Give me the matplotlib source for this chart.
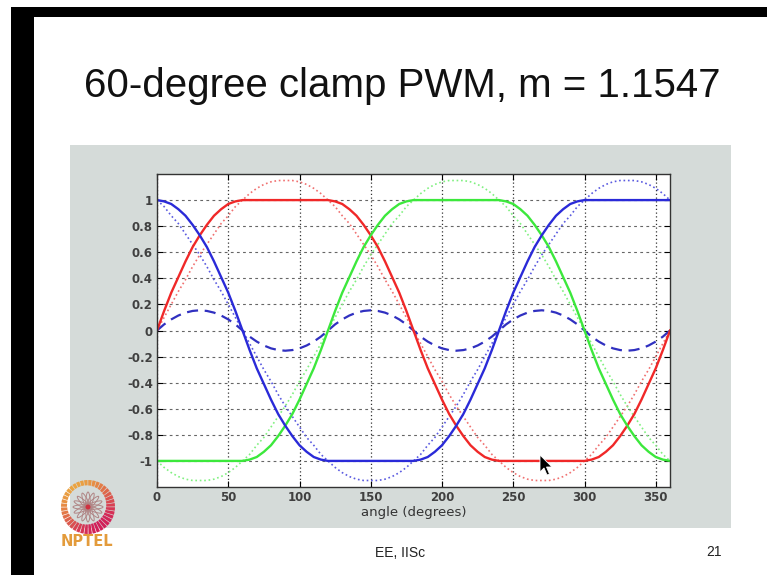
import numpy as np
import matplotlib
matplotlib.use("Agg")
import matplotlib.pyplot as plt
from matplotlib.patches import Rectangle, Wedge, Ellipse, Circle, Polygon

# angle samples (degrees), every 5 degrees
angle = list(range(0, 361, 5))

# reference sines, m = 1.1547 (dotted)
red_sine = [
    0, 0.10, 0.20, 0.30, 0.39, 0.49, 0.58, 0.66, 0.74, 0.82, 0.88, 0.95,
    1.00, 1.05, 1.09, 1.12, 1.14, 1.15, 1.15, 1.15, 1.14, 1.12, 1.09, 1.05,
    1.00, 0.95, 0.88, 0.82, 0.74, 0.66, 0.58, 0.49, 0.39, 0.30, 0.20, 0.10,
    0, -0.10, -0.20, -0.30, -0.39, -0.49, -0.58, -0.66, -0.74, -0.82, -0.88, -0.95,
    -1.00, -1.05, -1.09, -1.12, -1.14, -1.15, -1.15, -1.15, -1.14, -1.12, -1.09, -1.05,
    -1.00, -0.95, -0.88, -0.82, -0.74, -0.66, -0.58, -0.49, -0.39, -0.30, -0.20, -0.10,
    0]
green_sine = [
    -1.00, -1.05, -1.09, -1.12, -1.14, -1.15, -1.15, -1.15, -1.14, -1.12, -1.09, -1.05,
    -1.00, -0.95, -0.88, -0.82, -0.74, -0.66, -0.58, -0.49, -0.39, -0.30, -0.20, -0.10,
    0, 0.10, 0.20, 0.30, 0.39, 0.49, 0.58, 0.66, 0.74, 0.82, 0.88, 0.95,
    1.00, 1.05, 1.09, 1.12, 1.14, 1.15, 1.15, 1.15, 1.14, 1.12, 1.09, 1.05,
    1.00, 0.95, 0.88, 0.82, 0.74, 0.66, 0.58, 0.49, 0.39, 0.30, 0.20, 0.10,
    0, -0.10, -0.20, -0.30, -0.39, -0.49, -0.58, -0.66, -0.74, -0.82, -0.88, -0.95,
    -1.00]
blue_sine = [
    1.00, 0.95, 0.88, 0.82, 0.74, 0.66, 0.58, 0.49, 0.39, 0.30, 0.20, 0.10,
    0, -0.10, -0.20, -0.30, -0.39, -0.49, -0.58, -0.66, -0.74, -0.82, -0.88, -0.95,
    -1.00, -1.05, -1.09, -1.12, -1.14, -1.15, -1.15, -1.15, -1.14, -1.12, -1.09, -1.05,
    -1.00, -0.95, -0.88, -0.82, -0.74, -0.66, -0.58, -0.49, -0.39, -0.30, -0.20, -0.10,
    0, 0.10, 0.20, 0.30, 0.39, 0.49, 0.58, 0.66, 0.74, 0.82, 0.88, 0.95,
    1.00, 1.05, 1.09, 1.12, 1.14, 1.15, 1.15, 1.15, 1.14, 1.12, 1.09, 1.05,
    1.00]

# clamped modulating signals (solid)
red_clamp = [
    0, 0.15, 0.29, 0.41, 0.53, 0.64, 0.73, 0.81, 0.88, 0.93, 0.97, 0.99,
    1, 1, 1, 1, 1, 1, 1, 1, 1, 1, 1, 1,
    1, 0.99, 0.97, 0.93, 0.88, 0.81, 0.73, 0.64, 0.53, 0.41, 0.29, 0.15,
    0, -0.15, -0.29, -0.41, -0.53, -0.64, -0.73, -0.81, -0.88, -0.93, -0.97, -0.99,
    -1, -1, -1, -1, -1, -1, -1, -1, -1, -1, -1, -1,
    -1, -0.99, -0.97, -0.93, -0.88, -0.81, -0.73, -0.64, -0.53, -0.41, -0.29, -0.15,
    0]
green_clamp = [
    -1, -1, -1, -1, -1, -1, -1, -1, -1, -1, -1, -1,
    -1, -0.99, -0.97, -0.93, -0.88, -0.81, -0.73, -0.64, -0.53, -0.41, -0.29, -0.15,
    0, 0.15, 0.29, 0.41, 0.53, 0.64, 0.73, 0.81, 0.88, 0.93, 0.97, 0.99,
    1, 1, 1, 1, 1, 1, 1, 1, 1, 1, 1, 1,
    1, 0.99, 0.97, 0.93, 0.88, 0.81, 0.73, 0.64, 0.53, 0.41, 0.29, 0.15,
    0, -0.15, -0.29, -0.41, -0.53, -0.64, -0.73, -0.81, -0.88, -0.93, -0.97, -0.99,
    -1]
blue_clamp = [
    1, 0.99, 0.97, 0.93, 0.88, 0.81, 0.73, 0.64, 0.53, 0.41, 0.29, 0.15,
    0, -0.15, -0.29, -0.41, -0.53, -0.64, -0.73, -0.81, -0.88, -0.93, -0.97, -0.99,
    -1, -1, -1, -1, -1, -1, -1, -1, -1, -1, -1, -1,
    -1, -0.99, -0.97, -0.93, -0.88, -0.81, -0.73, -0.64, -0.53, -0.41, -0.29, -0.15,
    0, 0.15, 0.29, 0.41, 0.53, 0.64, 0.73, 0.81, 0.88, 0.93, 0.97, 0.99,
    1, 1, 1, 1, 1, 1, 1, 1, 1, 1, 1, 1,
    1]

# common-mode offset (dashed)
offset = [
    0, 0.047, 0.085, 0.115, 0.137, 0.150, 0.155, 0.150, 0.137, 0.115, 0.085, 0.047,
    0, -0.047, -0.085, -0.115, -0.137, -0.150, -0.155, -0.150, -0.137, -0.115, -0.085, -0.047,
    0, 0.047, 0.085, 0.115, 0.137, 0.150, 0.155, 0.150, 0.137, 0.115, 0.085, 0.047,
    0, -0.047, -0.085, -0.115, -0.137, -0.150, -0.155, -0.150, -0.137, -0.115, -0.085, -0.047,
    0, 0.047, 0.085, 0.115, 0.137, 0.150, 0.155, 0.150, 0.137, 0.115, 0.085, 0.047,
    0, -0.047, -0.085, -0.115, -0.137, -0.150, -0.155, -0.150, -0.137, -0.115, -0.085, -0.047,
    0]

xticks = [0, 50, 100, 150, 200, 250, 300, 350]
yticks = [-1, -0.8, -0.6, -0.4, -0.2, 0, 0.2, 0.4, 0.6, 0.8, 1]
ytick_labels = ["-1", "-0.8", "-0.6", "-0.4", "-0.2", "0", "0.2", "0.4", "0.6", "0.8", "1"]

W, H = 767, 575
fig = plt.figure(figsize=(W / 100, H / 100), dpi=100)
fig.patch.set_facecolor("white")

def fx(px):
    return px / W

def fy(py):
    return 1 - py / H

# black frame of the video capture
fig.patches.append(Rectangle((fx(11), 0), fx(23), fy(7), transform=fig.transFigure,
                             facecolor="black", edgecolor="none", zorder=-10))
fig.patches.append(Rectangle((fx(11), fy(17)), 1 - fx(11), 10 / H, transform=fig.transFigure,
                             facecolor="black", edgecolor="none", zorder=-10))
# gray figure panel
fig.patches.append(Rectangle((fx(70), fy(528)), fx(661), 383 / H, transform=fig.transFigure,
                             facecolor="#d5dbd9", edgecolor="none", zorder=-10))

fig.text(fx(402), fy(97), "60-degree clamp PWM, m = 1.1547", ha="center", va="baseline",
         fontsize=29, family="Liberation Sans", color="#111111")
fig.text(fx(400), fy(553), "EE, IISc", ha="center", va="center", fontsize=10,
         family="Liberation Sans", color="#222222")
fig.text(fx(714), fy(552), "21", ha="center", va="center", fontsize=10,
         family="Liberation Sans", color="#222222")

ax = fig.add_axes([fx(157), fy(487), fx(513), 313 / H])
ax.set_facecolor("white")

ax.plot(angle, red_sine, color="#f07070", lw=1.2, ls=":")
ax.plot(angle, green_sine, color="#80f080", lw=1.2, ls=":")
ax.plot(angle, blue_sine, color="#5a5ae0", lw=1.2, ls=":")
ax.plot(angle, offset, color="#3030c0", lw=1.6, ls=(0, (5, 3)))
ax.plot(angle, red_clamp, color="#f02828", lw=1.7)
ax.plot(angle, green_clamp, color="#3ce83c", lw=1.7)
ax.plot(angle, blue_clamp, color="#2a2ad8", lw=1.7)

ax.set_xlim(0, 360)
ax.set_ylim(-1.2, 1.2)
ax.set_xticks(xticks)
ax.set_yticks(yticks)
ax.set_yticklabels(ytick_labels)
ax.grid(True, axis="x", color="#333333", ls=(0, (1, 2)), lw=0.9)
ax.grid(True, axis="y", color="#666666", ls=(0, (2.5, 3)), lw=0.8)
ax.tick_params(direction="in", length=4, width=0.8, top=True, right=True, pad=3,
               labelsize=8.5, labelcolor="#404040")
for lab in ax.get_xticklabels() + ax.get_yticklabels():
    lab.set_fontweight("bold")
for s in ax.spines.values():
    s.set_color("#333333")
    s.set_linewidth(1)
ax.set_xlabel("angle (degrees)", fontsize=9.5, color="#333333", labelpad=1)

# NPTEL logo
lg = fig.add_axes([fx(56), fy(539), fx(64), 64 / H])
lg.set_xlim(-32, 32)
lg.set_ylim(-32, 32)
lg.axis("off")
c0 = np.array([0.92, 0.64, 0.25])
c1 = np.array([0.82, 0.12, 0.35])
nseg = 40
for k in range(nseg):
    a0 = 100 + k * 360 / nseg
    t = (np.cos(np.radians(a0 - 300)) + 1) / 2
    col = c0 * (1 - t) + c1 * t
    wdt = 5 + 5 * t
    lg.add_patch(Wedge((0, 0), 27, a0, a0 + 360 / nseg - 1.5, width=wdt,
                       facecolor=col, edgecolor="none"))
for k in range(8):
    lg.add_patch(Ellipse((0, 0), 30, 5, angle=k * 22.5, facecolor="none",
                         edgecolor="#b08585", lw=0.7))
lg.add_patch(Circle((0, 0), 2.5, facecolor="#d03040", edgecolor="none"))
fig.text(fx(87), fy(542), "NPTEL", ha="center", va="center", fontsize=10.5,
         fontweight="bold", color="#e39b3b", family="DejaVu Sans")

# mouse pointer
tip_x, tip_y = 540, 455
arrow = [(0, 0), (0, 17), (4, 13), (7, 20), (9.5, 19), (6.5, 12), (12, 12)]
pts = [(fx(tip_x + dx), fy(tip_y + dy)) for dx, dy in arrow]
fig.patches.append(Polygon(pts, closed=True, transform=fig.transFigure,
                           facecolor="black", edgecolor="white", lw=0.6, zorder=20))

fig.savefig("out.png", dpi=100)
